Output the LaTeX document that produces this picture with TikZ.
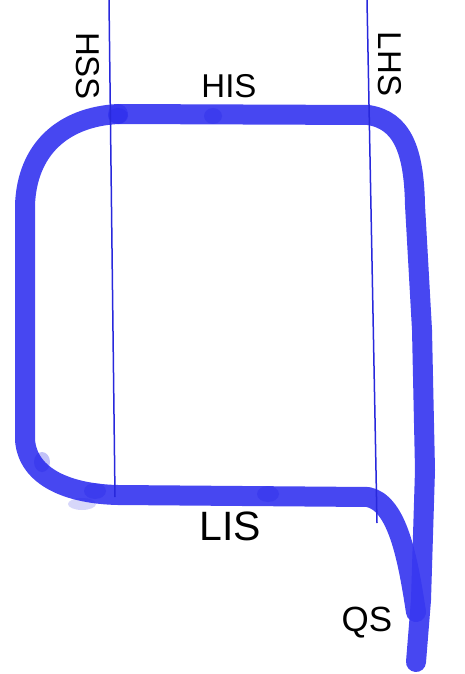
\documentclass[tikz,border=0pt]{standalone}
\usepackage{fontspec}
\setmainfont{Liberation Sans}
\definecolor{loopblue}{RGB}{55,55,240}
\definecolor{blobblue}{RGB}{35,35,230}
\definecolor{thinblue}{RGB}{40,40,220}
\begin{document}
\begin{tikzpicture}[x=1pt,y=-1pt,
  loopline/.style={draw=loopblue,line width=20pt,line cap=round,line join=round,opacity=0.92},
  blob/.style={fill=blobblue,opacity=0.28},
  thinline/.style={draw=thinblue,line width=1.5pt},
  lbl/.style={font=\fontsize{33}{33}\selectfont,inner sep=0pt,text depth=0pt}]
\useasboundingbox (0,0) rectangle (464,674);
% thick loop
\draw[loopline] (118,114) -- (368,115) .. controls (402,120) and (414,150) .. (415,205)
  -- (422,330) -- (425,470) -- (421,600) -- (416,662);
\draw[loopline] (118,114) .. controls (62,117) and (27,150) .. (25,205) -- (25,440)
  .. controls (28,478) and (70,494) .. (118,495) -- (368,497)
  .. controls (398,503) and (408,560) .. (416,612);
% darker hand-drawn patches
\fill[blob] (118,116) ellipse (10pt and 8pt);
\fill[blob] (213,116) ellipse (9pt and 8pt);
\fill[blob] (42,462) ellipse (8pt and 10pt);
\fill[blob] (95,491) ellipse (11pt and 8pt);
\fill[blob] (268,494) ellipse (11pt and 8pt);
\fill[blob,opacity=0.18] (82,504) ellipse (14pt and 6pt);
% thin vertical lines
\coordinate (l1) at (109,0); \coordinate (l2) at (115,497);
\coordinate (r1) at (367,0); \coordinate (r2) at (377,523);
\draw[thinline] (l1) -- (l2);
\draw[thinline] (r1) -- (r2);
% labels
\node[lbl,anchor=base] (his) at (229,98) {HIS};
\node[lbl,anchor=base,font=\fontsize{41}{41}\selectfont] (lis) at (230,540) {LIS};
\node[lbl,anchor=base,font=\fontsize{35}{35}\selectfont] (qs) at (367,631) {QS};
\node[lbl,rotate=-90] (hss) at (88,66) {HSS};
\node[lbl,rotate=-90] (lhs) at (390,64) {LHS};
\end{tikzpicture}
\end{document}
